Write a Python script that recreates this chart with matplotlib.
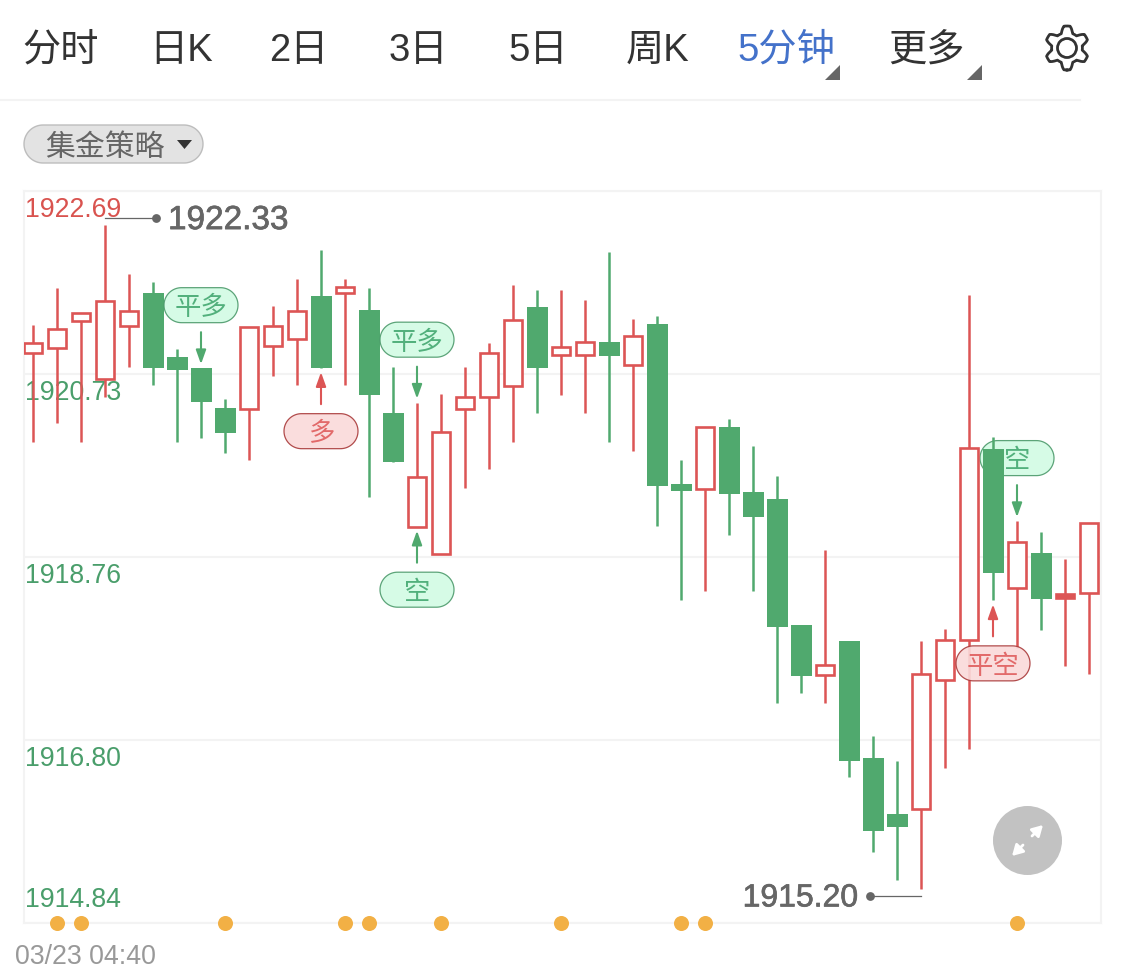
import numpy as np
import matplotlib
matplotlib.use("Agg")
import matplotlib.pyplot as plt
import matplotlib.patheffects as pe
from matplotlib.patches import Polygon, Circle
from matplotlib.transforms import IdentityTransform

plt.rcParams['font.family'] = ['Liberation Sans', 'Noto Sans CJK SC', 'DejaVu Sans']

# Datos
opens = [1920.95, 1921.01, 1921.30, 1920.67, 1921.24, 1921.60, 1920.91, 1920.79, 1920.36,
         1920.35, 1921.03, 1921.10, 1921.56, 1921.60, 1921.41, 1920.31, 1919.09, 1918.80,
         1920.35, 1920.48, 1920.60, 1921.45, 1920.93, 1920.93, 1921.07, 1920.82, 1921.26,
         1919.55, 1919.49, 1920.16, 1919.46, 1919.39, 1918.04, 1917.50, 1917.86, 1916.61,
         1916.01, 1916.06, 1917.45, 1917.88, 1919.92, 1918.43, 1918.81, 1918.33, 1918.38]
closes = [1921.06, 1921.21, 1921.38, 1921.51, 1921.40, 1920.79, 1920.77, 1920.43, 1920.09,
          1921.23, 1921.24, 1921.40, 1920.79, 1921.66, 1920.50, 1919.78, 1919.62, 1920.11,
          1920.48, 1920.95, 1921.31, 1920.79, 1921.02, 1921.07, 1920.92, 1921.14, 1919.53,
          1919.47, 1920.16, 1919.44, 1919.19, 1918.01, 1917.49, 1917.61, 1916.58, 1915.83,
          1915.87, 1917.51, 1917.88, 1919.93, 1918.59, 1918.93, 1918.31, 1918.37, 1919.13]
highs = [1921.25, 1921.65, 1921.38, 1922.33, 1921.80, 1921.71, 1921.00, 1920.79, 1920.46,
         1921.23, 1921.46, 1921.75, 1922.06, 1921.75, 1921.65, 1920.80, 1920.42, 1920.51,
         1920.80, 1921.06, 1921.68, 1921.63, 1921.63, 1921.52, 1922.04, 1921.32, 1921.35,
         1919.80, 1920.16, 1920.25, 1919.96, 1919.63, 1918.04, 1918.84, 1917.86, 1916.85,
         1916.58, 1917.86, 1917.99, 1921.57, 1920.05, 1919.15, 1919.03, 1918.74, 1919.13]
lows = [1920.00, 1920.20, 1920.00, 1920.48, 1920.80, 1920.61, 1920.00, 1920.04, 1919.88,
        1919.81, 1920.71, 1920.61, 1920.79, 1920.61, 1919.41, 1919.78, 1919.09, 1918.80,
        1919.50, 1919.71, 1920.00, 1920.31, 1920.50, 1920.31, 1920.00, 1919.90, 1919.10,
        1918.30, 1918.40, 1919.00, 1918.40, 1917.20, 1917.31, 1917.20, 1916.41, 1915.60,
        1915.30, 1915.20, 1916.50, 1916.71, 1918.30, 1917.79, 1917.98, 1917.60, 1917.51]

price_ticks = [1922.69, 1920.73, 1918.76, 1916.80, 1914.84]
tick_labels = ["1922.69", "1920.73", "1918.76", "1916.80", "1914.84"]
event_idx = [1, 2, 8, 13, 14, 17, 22, 27, 28, 41]

# (vela, texto, 1 = flecha hacia arriba / -1 = hacia abajo, color)
signals = [(7, "平多", -1, "green"), (12, "多", 1, "red"), (16, "平多", -1, "green"),
           (16, "空", 1, "green"), (41, "空", -1, "green"), (40, "平空", 1, "red")]

tabs = ["分时", "日K", "2日", "3日", "5日", "周K", "5分钟", "更多"]
tab_x = [22, 149, 269, 389, 508, 626, 737, 888]

RED = "#DC5555"
GREEN = "#50A96E"
W, H = 1125, 980

fig = plt.figure(figsize=(W / 100, H / 100), dpi=100)
ax = fig.add_axes([24 / W, (H - 923) / H, 1077 / W, 732 / H])
ax.set_xlim(-0.375, 44.5)
ax.set_ylim(price_ticks[-1], price_ticks[0])
ax.set_xticks([])
ax.set_yticks(price_ticks)
ax.tick_params(left=False, labelleft=False)
ax.grid(axis="y", color="#F3F3F3", lw=1.5, zorder=0)
ax.set_axisbelow(True)
for s in ax.spines.values():
    s.set_color("#F3F3F3")
    s.set_linewidth(1.5)

# Etiquetas del eje
for i, (p, lab) in enumerate(zip(price_ticks, tick_labels)):
    dy = 23 if i == len(price_ticks) - 1 else -19
    ax.annotate(lab, xy=(0, p), xycoords=("axes fraction", "data"), xytext=(1, dy),
                textcoords="offset pixels", ha="left", va="center", fontsize=19.2,
                color="#D9534F" if i == 0 else "#4A9E6B", zorder=1)

# Velas
x = np.arange(len(opens))
for i in x:
    up = closes[i] >= opens[i]
    c = RED if up else GREEN
    ax.vlines(i, lows[i], highs[i], color=c, lw=1.8, zorder=3)
    top, bot = max(opens[i], closes[i]), min(opens[i], closes[i])
    if up:
        face = RED if top - bot < 0.05 else "white"
        ax.bar(i, top - bot, bottom=bot, width=18.5 / 24, facecolor=face, edgecolor=c, lw=1.9, zorder=3.1)
    else:
        ax.bar(i, top - bot, bottom=bot, width=21 / 24, facecolor=c, edgecolor="none", zorder=3.1)

# Puntos de eventos
ax.scatter(event_idx, [price_ticks[-1]] * len(event_idx), s=117, color="#F2B045",
           clip_on=False, zorder=6, linewidths=0)


def disp(i, p):
    return ax.transData.transform((i, p))


def pill(x0, x1, yc, r):
    # contorno de una píldora con extremos semicirculares
    t = np.linspace(-np.pi / 2, np.pi / 2, 40)
    right = np.column_stack([x1 - r + r * np.cos(t), yc + r * np.sin(t)])
    left = np.column_stack([x0 + r - r * np.cos(t[::-1] * -1), yc + r * np.sin(t[::-1])])
    return np.vstack([right, left])


# Señales
for i, txt, d, kind in signals:
    px, py = disp(i, lows[i] if d == 1 else highs[i])
    tip = py - 4 * d
    tail = py - 36 * d
    mid = py - 63 * d
    line = GREEN if kind == "green" else RED
    z = 2 if i == 41 else 4
    ax.annotate("", xy=(px, tip), xytext=(px, tail), xycoords="figure pixels", textcoords="figure pixels",
                arrowprops=dict(arrowstyle="-|>,head_length=0.7,head_width=0.25", color=line, lw=1.5,
                                shrinkA=0, shrinkB=0, mutation_scale=12), zorder=z)
    face = "#D2FBE4" if kind == "green" else "#FADADA"
    edge = "#4C9A6B" if kind == "green" else "#A93A3A"
    color = "#52B07C" if kind == "green" else "#E26A6A"
    ax.add_patch(Polygon(pill(px - 37, px + 37, mid, 17.5), closed=True, transform=IdentityTransform(),
                         fc=face, ec=edge, lw=0.9, alpha=0.9, clip_on=False, zorder=z))
    ax.text(px, mid - 3, txt, transform=IdentityTransform(), ha="center", va="center",
            fontsize=19, color=color, zorder=z + 0.1)

# Capa de interfaz en píxeles
ui = fig.add_axes([0, 0, 1, 1], zorder=5)
ui.set_xlim(0, W)
ui.set_ylim(H, 0)
ui.axis("off")
ui.patch.set_alpha(0)


def flip(xy):
    return xy[0], H - xy[1]


for t, tx in zip(tabs, tab_x):
    ui.text(tx, 51, t, ha="left", va="center", fontsize=27.5, color="#4472CA" if t == "5分钟" else "#333333")
ui.add_patch(Polygon([(825, 80), (840, 80), (840, 65)], fc="#666666", ec="none"))
ui.add_patch(Polygon([(967, 80), (982, 80), (982, 65)], fc="#666666", ec="none"))
ui.plot([0, 1080], [100, 100], color="#F3F3F3", lw=1.5)

# Engranaje
th = np.linspace(0, 2 * np.pi, 361)
rr = 18.7 + 3.3 * np.clip(np.cos(6 * th) * 1.5, -1, 1)
ui.plot(1067 + rr * np.sin(th), 48 + rr * np.cos(th), color="#333333", lw=2)
ui.add_patch(Circle((1067, 48), 9.5, fc="none", ec="#333333", lw=2))

# Selector
ui.add_patch(Polygon(pill(24, 203, 144, 19), closed=True, fc="#E3E3E3", ec="#BDBDBD", lw=1))
ui.text(45, 148, "集金策略", ha="left", va="center", fontsize=21.5, color="#666666")
ui.add_patch(Polygon([(177, 140), (192, 140), (184.5, 149)], fc="#333333", ec="none"))

# Máximo y mínimo
hi = int(np.argmax(highs))
lo = int(np.argmin(lows))
hx, hy = flip(disp(hi, highs[hi]))
ui.plot([hx, hx + 51], [hy - 7, hy - 7], color="#666666", lw=0.9)
ui.scatter([hx + 51], [hy - 7], s=40, color="#666666", linewidths=0)
stroke = [pe.withStroke(linewidth=0.5, foreground="#666666")]
ui.text(hx + 63, hy - 4, f"{highs[hi]:.2f}", ha="left", va="center", fontsize=24, color="#666666", path_effects=stroke)
lx, ly = flip(disp(lo, lows[lo]))
ui.plot([lx, lx - 51], [ly + 7, ly + 7], color="#666666", lw=0.9)
ui.scatter([lx - 51], [ly + 7], s=40, color="#666666", linewidths=0)
ui.text(lx - 63, ly + 9, f"{lows[lo]:.2f}", ha="right", va="center", fontsize=23, color="#666666", path_effects=stroke)

# Botón de expandir
ui.add_patch(Circle((1027.5, 840.5), 34.5, fc="#C2C2C2", ec="none"))
for a, b in [((1023, 845), (1012, 856)), ((1032, 836), (1043, 825))]:
    ui.annotate("", xy=b, xytext=a, arrowprops=dict(arrowstyle="-|>,head_length=0.7,head_width=0.4", color="white",
                                                    lw=2, shrinkA=0, shrinkB=0, mutation_scale=9))

ui.text(15, 957, "03/23 04:40", ha="left", va="center", fontsize=19.3, color="#999999")

fig.savefig("out.png", dpi=100)
